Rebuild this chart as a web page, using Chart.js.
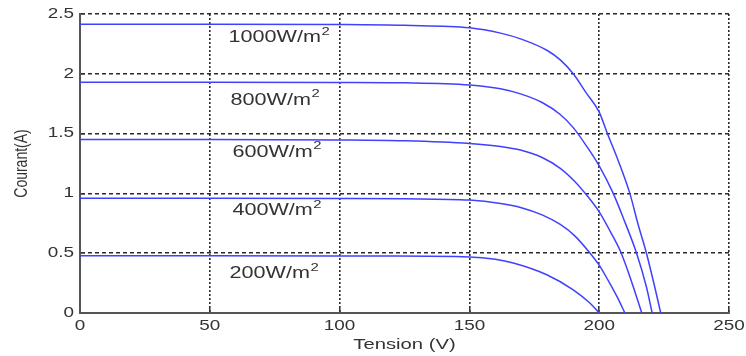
<!DOCTYPE html>
<html>
<head>
<meta charset="utf-8">
<script src="https://cdn.jsdelivr.net/npm/chart.js@4/dist/chart.umd.min.js"></script>
<style>
html, body { margin: 0; padding: 0; background: #ffffff; }
#wrap { width: 746px; height: 356px; }
canvas { display: block; }
</style>
</head>
<body>
<div id="wrap"><canvas id="c" width="746" height="356"></canvas></div>
<script>
// ---- data ----
const xTicks = [0, 50, 100, 150, 200, 250];
const xTickLabels = ['0', '50', '100', '150', '200', '250'];
const yTicks = [0, 0.5, 1, 1.5, 2, 2.5];
const yTickLabels = ['0', '0.5', '1', '1.5', '2', '2.5'];
const xTitle = 'Tension (V)';
const yTitle = 'Courant(A)';

const seriesNames = ['1000W/m', '800W/m', '600W/m', '400W/m', '200W/m'];
const seriesSup = '2';

const v1000 = [0, 50, 100, 125, 150, 162, 170, 180, 185, 190, 195, 200, 203, 207.3, 211.8, 215, 218.2, 221.4, 223.7];
const i1000 = [2.415, 2.415, 2.412, 2.405, 2.385, 2.34, 2.29, 2.195, 2.116, 2.0, 1.84, 1.68, 1.51, 1.276, 1.0, 0.74, 0.50, 0.217, 0];

const v800 = [0, 50, 100, 125, 150, 162, 170, 178, 185, 190, 195, 200, 205.4, 209.9, 214.4, 218.2, 220.4];
const i800 = [1.93, 1.93, 1.928, 1.925, 1.907, 1.875, 1.83, 1.76, 1.66, 1.55, 1.40, 1.23, 1.0, 0.76, 0.5, 0.217, 0];

const v600 = [0, 50, 100, 125, 150, 162, 170, 178, 185, 190.6, 195, 200, 204.8, 208.5, 212.5, 216.4];
const i600 = [1.45, 1.45, 1.447, 1.44, 1.417, 1.392, 1.36, 1.30, 1.21, 1.10, 0.99, 0.845, 0.66, 0.5, 0.26, 0];

const v400 = [0, 50, 100, 125, 150, 162, 170, 178, 185, 190.6, 196.5, 200, 203.5, 207, 209.9];
const i400 = [0.96, 0.96, 0.958, 0.955, 0.944, 0.915, 0.88, 0.82, 0.74, 0.645, 0.5, 0.40, 0.27, 0.13, 0];

const v200 = [0, 50, 100, 115.6, 150, 160, 166.9, 179.8, 190, 196.4, 200];
const i200 = [0.478, 0.478, 0.477, 0.476, 0.469, 0.449, 0.418, 0.32, 0.194, 0.083, 0];

// annotation anchors (data units) for the irradiance labels
const labelAtV = [57.2, 58, 58.7, 58.7, 57.6];
const labelAtI = [2.30, 1.78, 1.342, 0.854, 0.328];

// ---- styling ----
const TEXT_STRETCH = 1.35;   // reference text is horizontally stretched
const FONT = '"Liberation Sans", Arial, Helvetica, sans-serif';
const TEXT_COLOR = '#333333';
const CURVE_COLOR = 'rgb(64,64,255)';

const canvas = document.getElementById('c');
const ctx0 = canvas.getContext('2d');
const origFill = ctx0.fillText;
ctx0.fillText = function (text, x, y, maxWidth) {
  const m = this.getTransform();
  const p = m.transformPoint(new DOMPoint(x, y));
  this.save();
  const s = new DOMMatrix().translateSelf(p.x, p.y).scaleSelf(TEXT_STRETCH, 1).translateSelf(-p.x, -p.y).multiplySelf(m);
  this.setTransform(s);
  if (maxWidth === undefined) origFill.call(this, text, x, y);
  else origFill.call(this, text, x, y, maxWidth);
  this.restore();
};

const curves = [[v1000, i1000], [v800, i800], [v600, i600], [v400, i400], [v200, i200]];
const datasets = curves.map(([vs, is], k) => ({
  label: seriesNames[k] + seriesSup,
  data: vs.map((v, j) => ({ x: v, y: is[j] })),
  borderColor: CURVE_COLOR,
  borderWidth: 1.5,
  pointRadius: 0,
  fill: false,
  cubicInterpolationMode: 'monotone'
}));

const labelPlugin = {
  id: 'irrLabels',
  afterDatasetsDraw(chart) {
    const { ctx, scales: { x, y } } = chart;
    ctx.save();
    ctx.fillStyle = TEXT_COLOR;
    ctx.textBaseline = 'middle';
    ctx.textAlign = 'left';
    seriesNames.forEach((t, k) => {
      const px = x.getPixelForValue(labelAtV[k]);
      const py = y.getPixelForValue(labelAtI[k]);
      ctx.font = '16px ' + FONT;
      ctx.fillText(t, px, py);
      const w = ctx.measureText(t).width * TEXT_STRETCH;
      ctx.font = '11px ' + FONT;
      ctx.fillText(seriesSup, px + w + 0.5, py - 6.3);
    });
    ctx.restore();
  }
};

new Chart(ctx0, {
  type: 'line',
  data: { datasets },
  plugins: [labelPlugin],
  options: {
    responsive: false,
    animation: false,
    events: [],
    layout: { padding: { top: 14, right: 17, left: 0, bottom: 0 } },
    plugins: { legend: { display: false }, tooltip: { enabled: false }, title: { display: false } },
    scales: {
      x: {
        type: 'linear', min: 0, max: 250,
        afterBuildTicks: s => { s.ticks = xTicks.map(v => ({ value: v })); },
        afterFit: s => { s.height = 43; s.paddingLeft = 0; s.paddingRight = 0; },
        ticks: {
          callback: v => xTickLabels[xTicks.indexOf(v)],
          font: { family: FONT, size: 14 }, color: TEXT_COLOR,
          padding: 10, maxRotation: 0, autoSkip: false
        },
        grid: {
          color: c => (c.tick && c.tick.value === 0) ? 'rgba(0,0,0,0)' : '#2a2a2a',
          lineWidth: 1.6, drawTicks: true, tickLength: -5, tickColor: '#333', tickWidth: 1.5
        },
        border: { display: true, color: '#555', width: 2, dash: [2, 2] },
        title: { display: true, text: xTitle, font: { family: FONT, size: 15 }, color: TEXT_COLOR, padding: { top: 0, bottom: 2 } }
      },
      y: {
        type: 'linear', min: 0, max: 2.5,
        afterBuildTicks: s => { s.ticks = yTicks.map(v => ({ value: v })); },
        afterFit: s => { s.width = 80; s.paddingTop = 0; s.paddingBottom = 0; },
        ticks: {
          callback: v => yTickLabels[yTicks.indexOf(v)],
          font: { family: FONT, size: 14 }, color: TEXT_COLOR,
          padding: 11, autoSkip: false
        },
        grid: {
          color: c => (c.tick && c.tick.value === 0) ? 'rgba(0,0,0,0)' : '#2a2a2a',
          lineWidth: 1.5, drawTicks: true, tickLength: -5, tickColor: '#333', tickWidth: 1.5
        },
        border: { display: true, color: '#555', width: 2, dash: [4, 3] },
        title: { display: true, text: yTitle, font: { family: FONT, size: 14 }, color: TEXT_COLOR, padding: { top: 13, bottom: 0 } }
      }
    }
  }
});
</script>
</body>
</html>
